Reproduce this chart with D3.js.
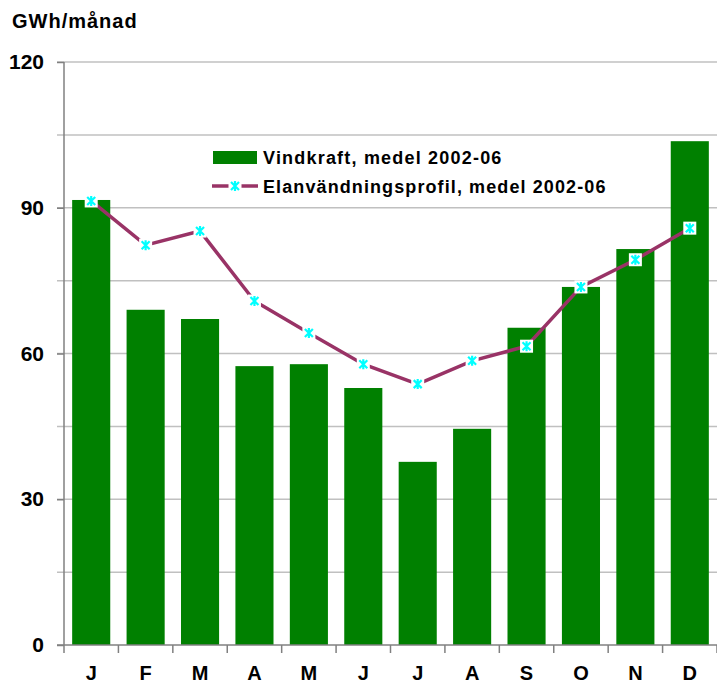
<!DOCTYPE html>
<html>
<head>
<meta charset="utf-8">
<script src="https://cdn.jsdelivr.net/npm/d3@7"></script>
<style>
  body { margin: 0; background: #fff; }
  text { font-family: "Liberation Sans", Arial, sans-serif; font-weight: bold; fill: #000; }
</style>
</head>
<body>
<script>
// months and series
const months = ["J", "F", "M", "A", "M", "J", "J", "A", "S", "O", "N", "D"];
const vindkraft = [91.6, 69.0, 67.1, 57.4, 57.8, 52.9, 37.7, 44.5, 65.3, 73.7, 81.5, 103.7];
const elanvandning = [91.4, 82.3, 85.2, 70.8, 64.2, 57.8, 53.7, 58.5, 61.5, 73.7, 79.3, 85.8];
const yTicks = [0, 30, 60, 90, 120];
const yGrid = [15, 30, 45, 60, 75, 90, 105, 120];

const width = 717, height = 684;
const margin = {top: 62, right: 0, bottom: 39, left: 64};

const svg = d3.select("body").append("svg")
    .attr("width", width)
    .attr("height", height);

const idx = d3.range(months.length);

const x = d3.scaleBand()
    .domain(idx)
    .range([margin.left, width - margin.right])
    .paddingInner(0.3)
    .paddingOuter(0.15);

const y = d3.scaleLinear()
    .domain([0, 120])
    .range([height - margin.bottom, margin.top]);

// gridlines
svg.append("g")
    .selectAll("line")
    .data(yGrid)
    .join("line")
    .attr("x1", margin.left - 7)
    .attr("x2", width)
    .attr("y1", d => y(d))
    .attr("y2", d => y(d))
    .attr("stroke", "#c0c0c0")
    .attr("stroke-width", 1.5);

// bars
svg.append("g")
    .selectAll("rect")
    .data(vindkraft)
    .join("rect")
    .attr("x", (d, i) => x(i))
    .attr("y", d => y(d))
    .attr("width", x.bandwidth())
    .attr("height", d => y(0) - y(d))
    .attr("fill", "#008000");

// y axis
svg.append("g")
    .attr("transform", `translate(${margin.left},0)`)
    .call(d3.axisLeft(y).tickValues(yTicks).tickSize(7).tickPadding(13).tickFormat(d3.format("d")))
    .call(g => g.select(".domain").attr("stroke", "#808080").attr("stroke-width", 1.5).attr("d", `M0,${y(0)}V${y(120)}`))
    .call(g => g.selectAll(".tick line").attr("stroke", "#808080").attr("stroke-width", 1.5))
    .call(g => g.selectAll(".tick text")
        .attr("font-family", "Liberation Sans, Arial, sans-serif")
        .attr("font-weight", "bold")
        .attr("font-size", 21)
        .attr("fill", "#000"));

// x axis
const boundaries = d3.range(months.length + 1);
const gx = svg.append("g").attr("transform", `translate(0,${y(0)})`);
gx.append("line")
    .attr("x1", margin.left - 7)
    .attr("x2", width)
    .attr("stroke", "#808080")
    .attr("stroke-width", 1.5);
gx.selectAll(".bt")
    .data(boundaries)
    .join("line")
    .attr("class", "bt")
    .attr("x1", d => margin.left + d * (width - margin.left) / months.length)
    .attr("x2", d => margin.left + d * (width - margin.left) / months.length)
    .attr("y1", 0)
    .attr("y2", 8)
    .attr("stroke", "#808080")
    .attr("stroke-width", 1.5);
gx.selectAll("text")
    .data(months)
    .join("text")
    .attr("x", (d, i) => x(i) + x.bandwidth() / 2)
    .attr("y", 35)
    .attr("text-anchor", "middle")
    .attr("font-size", 20)
    .text(d => d);

// line series
const line = d3.line()
    .x((d, i) => x(i) + x.bandwidth() / 2)
    .y(d => y(d));

svg.append("path")
    .datum(elanvandning)
    .attr("d", line)
    .attr("fill", "none")
    .attr("stroke", "#993366")
    .attr("stroke-width", 3.5);

function marker(g) {
    g.append("rect")
        .attr("x", -6.5).attr("y", -6.5)
        .attr("width", 13).attr("height", 13)
        .attr("fill", "#fff");
    g.append("path")
        .attr("d", "M-4,-4L4,4M-4,4L4,-4M0,-5V5")
        .attr("stroke", "#00ffff")
        .attr("stroke-width", 2.2)
        .attr("fill", "none");
}

svg.append("g")
    .selectAll("g")
    .data(elanvandning)
    .join("g")
    .attr("transform", (d, i) => `translate(${x(i) + x.bandwidth() / 2},${y(d)})`)
    .each(function () { marker(d3.select(this)); });

// title
svg.append("text")
    .attr("x", 12)
    .attr("y", 28)
    .attr("font-size", 20)
    .attr("letter-spacing", 1)
    .text("GWh/månad");

// legend
const legend = svg.append("g").attr("transform", "translate(212,151)");
legend.append("rect")
    .attr("x", 1).attr("y", 0)
    .attr("width", 44).attr("height", 13)
    .attr("fill", "#008000");
legend.append("text")
    .attr("x", 51).attr("y", 13)
    .attr("font-size", 18)
    .attr("letter-spacing", 1.2)
    .text("Vindkraft, medel 2002-06");
const l2 = legend.append("g").attr("transform", "translate(0,35)");
l2.append("line")
    .attr("x1", 0).attr("x2", 46)
    .attr("stroke", "#993366")
    .attr("stroke-width", 3.5);
l2.append("g").attr("transform", "translate(23,0)").call(marker);
l2.append("text")
    .attr("x", 51).attr("y", 6.5)
    .attr("font-size", 18)
    .attr("letter-spacing", 1.1)
    .text("Elanvändningsprofil, medel 2002-06");
</script>
</body>
</html>
